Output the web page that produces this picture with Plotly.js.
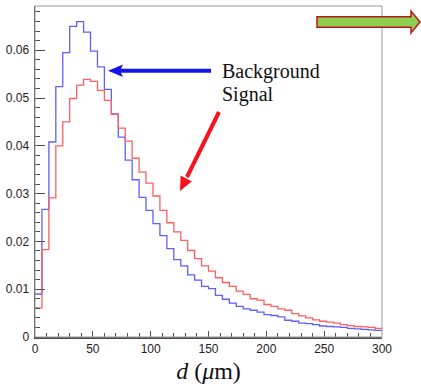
<!DOCTYPE html>
<html>
<head>
<meta charset="utf-8">
<script src="https://cdn.plot.ly/plotly-3.0.1.min.js"></script>
<style>html,body{margin:0;padding:0;background:#fff;}#chart{width:421px;height:384px;}</style>
</head>
<body>
<div id="chart"></div>
<script>
// ---- data (bin contents, 50 bins of 6 µm from 0 to 300) ----
var binLow = 0;
var binWidth = 6;
var background = [0.0090,0.0267,0.0408,0.0524,0.0595,0.0650,0.0660,0.0638,0.0598,0.0565,
                  0.0518,0.0467,0.0418,0.0370,0.0329,0.0292,0.0265,0.0237,0.0212,0.0185,
                  0.0162,0.0149,0.0130,0.0119,0.0106,0.0101,0.0087,0.0079,0.0071,0.0064,
                  0.0059,0.0056,0.0052,0.0047,0.0045,0.0042,0.0035,0.0033,0.0029,0.0028,
                  0.0026,0.0023,0.0022,0.0021,0.0020,0.0018,0.0017,0.0016,0.0015,0.0014];
var signal =     [0.0061,0.0183,0.0291,0.0400,0.0450,0.0499,0.0527,0.0539,0.0535,0.0516,
                  0.0495,0.0466,0.0437,0.0410,0.0374,0.0345,0.0322,0.0295,0.0265,0.0239,
                  0.0220,0.0202,0.0181,0.0164,0.0149,0.0138,0.0124,0.0114,0.0106,0.0096,
                  0.0089,0.0080,0.0077,0.0068,0.0064,0.0059,0.0056,0.0049,0.0044,0.0040,
                  0.0036,0.0033,0.0031,0.0029,0.0026,0.0024,0.0022,0.0021,0.0020,0.0018];
var legendLabels = ["Background", "Signal"];
var xTitle = "<i>d</i> (<i>μ</i>m)";

// ---- build step outlines ----
function stepTrace(vals, color, name) {
  var xs = [], ys = [];
  for (var i = 0; i < vals.length; i++) { xs.push(binLow + i * binWidth); ys.push(vals[i]); }
  xs.push(binLow + vals.length * binWidth); ys.push(vals[vals.length - 1]);
  return {x: xs, y: ys, type: 'scatter', mode: 'lines', name: name,
          line: {shape: 'hv', color: color, width: 1.3}, hoverinfo: 'skip'};
}

var W = 421, H = 384;
var M = {l: 35, r: 39, t: 6, b: 47};
var PW = W - M.l - M.r, PH = H - M.t - M.b;
function px(x) { return (x - M.l) / PW; }
function py(y) { return (H - M.b - y) / PH; }
function path(pts) {
  return 'M ' + pts.map(function (p) { return px(p[0]) + ',' + py(p[1]); }).join(' L ') + ' Z';
}

var blue = '#1414f0', red = '#f5141e';
var shapes = [
  // frame top/right (light grey)
  {type: 'rect', xref: 'paper', yref: 'paper', x0: 0, x1: 1, y0: 0, y1: 1,
   line: {color: '#9a9a9a', width: 1}, layer: 'above'},
  // blue arrow
  {type: 'line', xref: 'paper', yref: 'paper', x0: px(211), y0: py(70.7), x1: px(118), y1: py(70.7),
   line: {color: blue, width: 4}},
  {type: 'path', xref: 'paper', yref: 'paper', path: path([[108, 70.7], [123, 64.5], [120, 70.7], [123, 77]]),
   fillcolor: blue, line: {color: blue, width: 0}},
  // red arrow
  {type: 'line', xref: 'paper', yref: 'paper', x0: px(219), y0: py(112), x1: px(187), y1: py(177),
   line: {color: red, width: 4}},
  {type: 'path', xref: 'paper', yref: 'paper',
   path: path([[180, 191], [191.8, 181.4], [186.5, 178.6], [180.6, 175.4]]),
   fillcolor: red, line: {color: red, width: 0}},
  // green block arrow (top right)
  {type: 'path', xref: 'paper', yref: 'paper',
   path: path([[317, 16.7], [411, 16.7], [411, 11], [420, 22], [411, 33], [411, 27.3], [317, 27.3]]),
   fillcolor: '#8fcf50', line: {color: '#b8161c', width: 1.5}}
];

var annotations = [
  {xref: 'paper', yref: 'paper', x: px(220), y: py(71), xanchor: 'left', yanchor: 'middle',
   text: legendLabels[0], showarrow: false,
   font: {family: 'Liberation Serif, Times New Roman, serif', size: 20, color: '#111'}},
  {xref: 'paper', yref: 'paper', x: px(220), y: py(94), xanchor: 'left', yanchor: 'middle',
   text: legendLabels[1], showarrow: false,
   font: {family: 'Liberation Serif, Times New Roman, serif', size: 20, color: '#111'}}
];

var axisCommon = {
  showgrid: false, zeroline: false, showline: true, linecolor: '#505050', linewidth: 1.5,
  ticks: 'inside', tickcolor: '#505050', tickwidth: 1,
  tickfont: {family: 'Liberation Sans, Arial, sans-serif', size: 12, color: '#222'}
};

var layout = {
  width: W, height: H, margin: M, showlegend: false,
  paper_bgcolor: '#fff', plot_bgcolor: '#fff',
  xaxis: Object.assign({}, axisCommon, {
    range: [0, 300], dtick: 50, tick0: 0, ticklen: 6,
    minor: {dtick: 10, ticks: 'inside', ticklen: 4, tickcolor: '#505050', tickwidth: 1},
    title: {text: xTitle, standoff: 8,
            font: {family: 'Liberation Serif, Times New Roman, serif', size: 24, color: '#111'}}
  }),
  yaxis: Object.assign({}, axisCommon, {
    range: [0, 0.06925], dtick: 0.01, tick0: 0, ticklen: 10, ticklabelstandoff: 2,
    minor: {dtick: 0.002, ticks: 'inside', ticklen: 5, tickcolor: '#505050', tickwidth: 1}
  }),
  shapes: shapes, annotations: annotations
};

Plotly.newPlot('chart', [stepTrace(background, 'rgb(95,95,255)', legendLabels[0]),
                         stepTrace(signal, 'rgb(255,95,95)', legendLabels[1])],
               layout, {staticPlot: true, displayModeBar: false});
</script>
</body>
</html>
